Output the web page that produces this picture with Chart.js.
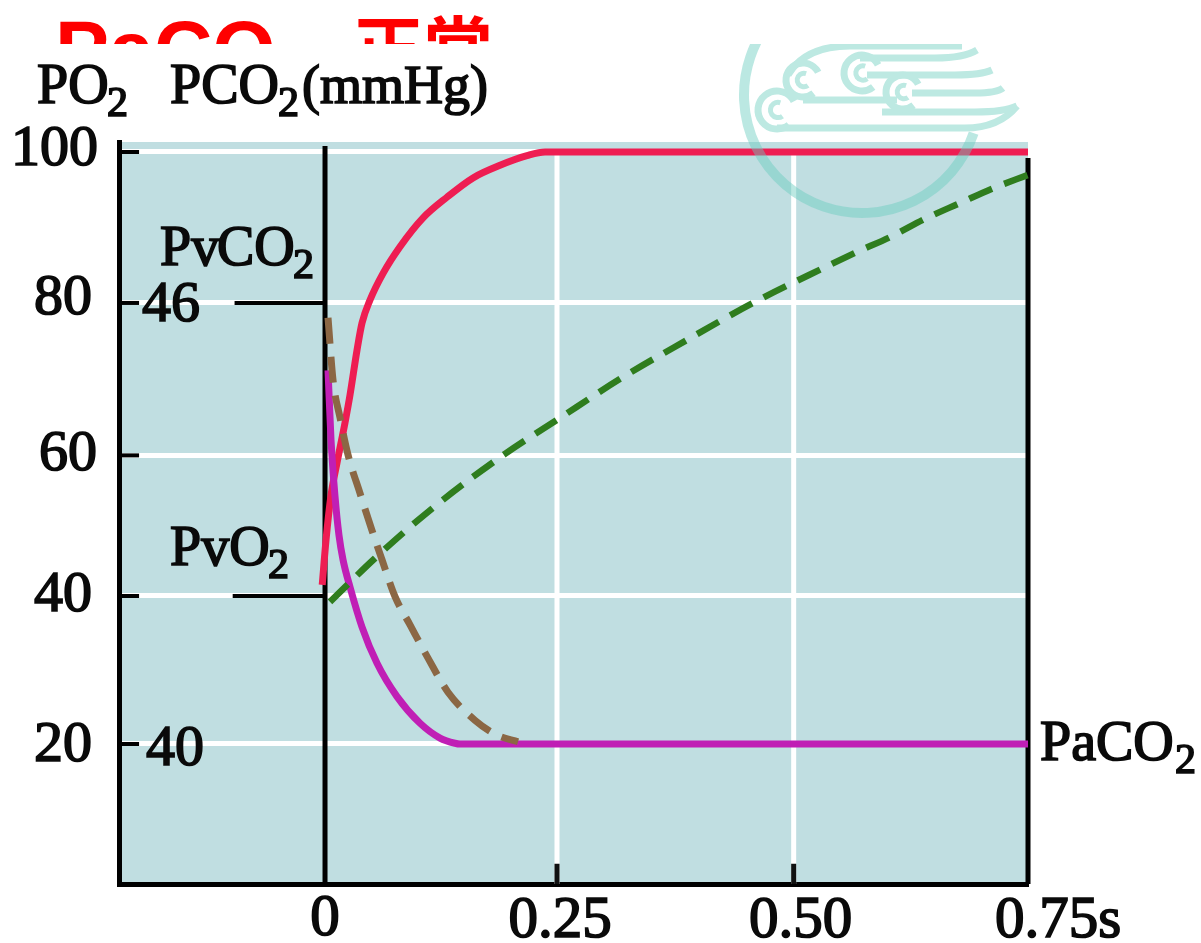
<!DOCTYPE html>
<html><head><meta charset="utf-8">
<style>html,body{margin:0;padding:0;background:#fff}canvas{display:block}</style>
<script src="https://cdn.jsdelivr.net/npm/chart.js@4"></script>
</head><body><canvas id="c" width="1201" height="943"></canvas>
<script>
// ---- data ----
const xTickValues=[0,0.2475,0.5,0.75];
const xTickLabels=['0','0.25','0.50','0.75s'];
const yTickValues=[20,40,59,79.6,100];
const yTickLabels=['20','40','60','80','100'];

const po2Times=[-0.003,0.0011,0.0064,0.0128,0.0213,0.0267,0.0341,0.0395,0.048,0.0619,0.08,0.1046,0.1302,0.1579,0.1867,0.2155,0.2347,0.75];
const po2Values=[41.5,47.6,53.6,58,63.4,67.2,73.2,76.9,80,83.6,87.2,91.1,93.9,96.5,98.2,99.5,100,100];
const paco2Times=[0.0032,0.0064,0.0107,0.0149,0.0192,0.0267,0.0395,0.0555,0.0768,0.1014,0.1227,0.1387,0.144,0.75];
const paco2Values=[70.5,61.1,53.4,48.2,44.9,41.2,35.8,30.9,26.4,22.8,20.8,20.1,20,20];
const pco2DashTimes=[0.0032,0.0085,0.016,0.0245,0.0373,0.05,0.0608,0.0747,0.0907,0.1099,0.1312,0.16,0.1835,0.2059];
const pco2DashValues=[77.6,69.2,64.1,59.1,53.9,48.9,44.9,39.9,36.1,31.6,27,23.2,21.2,20.3];
const po2DashTimes=[0.0053,0.0533,0.115,0.192,0.2475,0.3169,0.3862,0.4566,0.5313,0.5676,0.6028,0.6423,0.6775,0.7127,0.75];
const po2DashValues=[39.2,45.1,51.9,59.2,63.8,69.5,74.6,79.6,84.3,86.5,88.5,91.1,93.1,95.1,96.9];

const xMin=-0.2198,xMax=0.75,yMin=1.08,yMax=101.35;
const zip=(xs,ys)=>xs.map((x,i)=>({x,y:ys[i]}));
const curve=(xs,ys,color,dash,w)=>({data:zip(xs,ys),borderColor:color,borderWidth:w||7,borderDash:dash||[],cubicInterpolationMode:'monotone',pointRadius:0,clip:false});
const rule=(pts,color,w)=>({data:pts,borderColor:color,borderWidth:w,pointRadius:0,clip:false,tension:0});

const datasets=[
 curve(pco2DashTimes,pco2DashValues,'#8b6744',[26,13],7),
 curve(po2DashTimes,po2DashValues,'#2f7d1e',[25,13],6.5),
 curve(paco2Times,paco2Values,'#c01fb5'),
 curve(po2Times,po2Values,'#ee1d52'),
 rule([{x:0,y:yMin},{x:0,y:100.8}],'#000',5),
 rule([{x:0.75,y:yMin},{x:0.75,y:99.2}],'#000',5),
 rule([{x:-0.0965,y:79.6},{x:0,y:79.6}],'#000',4),
 rule([{x:-0.0985,y:40},{x:0,y:40}],'#000',4),
 ...yTickValues.map(v=>rule([{x:-0.2166,y:v},{x:-0.1984,y:v}],'#000',4)),
 ...[0.2475,0.5].map(v=>rule([{x:v,y:3.8},{x:v,y:yMin}],'#111',5)),
 ...[0.2475,0.5].map(v=>rule([{x:v,y:yMin},{x:v,y:100}],'#fff',5)),
];

const serif=(s)=>s+'px "Liberation Serif"';
const labels=[
 // text runs: [text, x, baseline, size]
 ['PO',37,103,56],['2',107,116,42],
 ['PCO',170,103,56],['2',278,116,42],['(mmHg)',302,103,54],
 ['Pv',160,265,56],['CO',217,265,56],['2',293,278,42],
 ['PvO',170,565,56],['2',268,578,42],
 ['46',142,321,58],['40',146,765,58],
 ['PaCO',1040,760,56],['2',1175,773,42],
];
const nudgeY={'100':[1,-2],'80':[-5,-4],'60':[0,-1],'40':[-5,0],'20':[-5,2]};
const nudgeX={'0':[0,-18],'0.25':[3,-16],'0.50':[7,-16],'0.75s':[30,-16]};

const bgPlugin={id:'bg',
 beforeDraw(chart){
  const {ctx,chartArea:a}=chart;
  ctx.save();ctx.fillStyle='#c0dee1';ctx.fillRect(a.left,a.top,a.right-a.left,a.bottom-a.top);ctx.restore();
  for(const [id,map] of [['x',nudgeX],['y',nudgeY]]){
   const sc=chart.scales[id];
   for(const it of sc.getLabelItems(a)){
    if(it._n)continue;it._n=1;
    const d=map[it.label]||[0,0];
    it.options.translation=[it.options.translation[0]+d[0],it.options.translation[1]+d[1]];
   }
  }
 },
 afterDraw(chart){
  const {ctx}=chart;
  // clipped red heading
  ctx.save();
  ctx.beginPath();ctx.rect(0,0,1201,44);ctx.clip();
  ctx.fillStyle='#fe0000';ctx.textBaseline='alphabetic';
  ctx.font='bold 81px "Liberation Sans"';ctx.fillText('PaCO',55,78);
  ctx.font='bold 70px "Noto Sans CJK SC"';ctx.fillText('正常',353,75);
  ctx.restore();
  // axis and curve captions
  ctx.save();ctx.fillStyle='#0a0a0a';ctx.strokeStyle='#0a0a0a';ctx.lineWidth=1.7;ctx.textBaseline='alphabetic';
  for(const [t,x,b,s] of labels){ctx.font=serif(s);ctx.fillText(t,x,b);ctx.strokeText(t,x,b);}
  ctx.restore();
  // watermark
  ctx.save();
  ctx.beginPath();ctx.rect(0,44,1201,899);ctx.clip();
  ctx.strokeStyle='rgba(105,205,190,0.45)';ctx.lineCap='butt';
  ctx.lineWidth=10;ctx.beginPath();ctx.arc(862,95,118,0.33,Math.PI*1.45);ctx.stroke();
  ctx.strokeStyle='#bde9e2';
  ctx.lineWidth=7;
  const scroll=(x,y,r)=>{ctx.lineWidth=7;ctx.beginPath();ctx.arc(x,y,r,0.9,Math.PI*1.85);ctx.stroke();ctx.lineWidth=5;ctx.beginPath();ctx.arc(x+1,y,r*0.4,Math.PI*0.3,Math.PI*1.6);ctx.stroke();};
  const sw=(x0,y0,x1,x2,y2)=>{ctx.lineWidth=7;ctx.beginPath();ctx.moveTo(x0,y0);ctx.lineTo(x1,y0);ctx.quadraticCurveTo((x1+x2)/2+8,y0,x2,y2);ctx.stroke();};
  sw(777,128,965,1017,106);sw(860,58,935,977,50);sw(867,75,955,992,70);sw(912,93,975,1003,88);sw(882,112,975,1017,106);
  ctx.lineWidth=7;ctx.beginPath();ctx.moveTo(803,100);ctx.lineTo(897,100);ctx.stroke();
  ctx.beginPath();ctx.moveTo(788,75);ctx.quadraticCurveTo(805,46,850,46);ctx.lineTo(962,46);ctx.stroke();
  scroll(777,110,19);scroll(803,80,17);scroll(862,73,18);scroll(903,92,17);
  ctx.restore();
 }
};

new Chart(document.getElementById('c'),{
 type:'line',
 data:{datasets},
 plugins:[bgPlugin],
 options:{
  responsive:false,animation:false,
  layout:{padding:{top:142,right:173,left:0,bottom:0}},
  plugins:{legend:{display:false},tooltip:{enabled:false},title:{display:false}},
  scales:{
   x:{type:'linear',min:xMin,max:xMax,
    afterBuildTicks(s){s.ticks=xTickValues.map(value=>({value}));},
    afterFit(s){s.height=59;},
    grid:{display:false},
    border:{display:true,color:'#000',width:5},
    ticks:{autoSkip:false,maxRotation:0,padding:10,color:'#0a0a0a',font:{family:'Liberation Serif',size:59},textStrokeColor:'#0a0a0a',textStrokeWidth:1.7,
     callback:(v,i)=>xTickLabels[i]}
   },
   y:{type:'linear',min:yMin,max:yMax,
    afterBuildTicks(s){s.ticks=yTickValues.map(value=>({value}));},
    afterFit(s){s.width=119;},
    grid:{color:'#fff',lineWidth:5,drawTicks:false},
    border:{display:true,color:'#000',width:5},
    ticks:{autoSkip:false,padding:22,color:'#0a0a0a',font:{family:'Liberation Serif',size:58},textStrokeColor:'#0a0a0a',textStrokeWidth:1.7,
     callback:(v,i)=>yTickLabels[i]}
   }
  }
 }
});
</script></body></html>
